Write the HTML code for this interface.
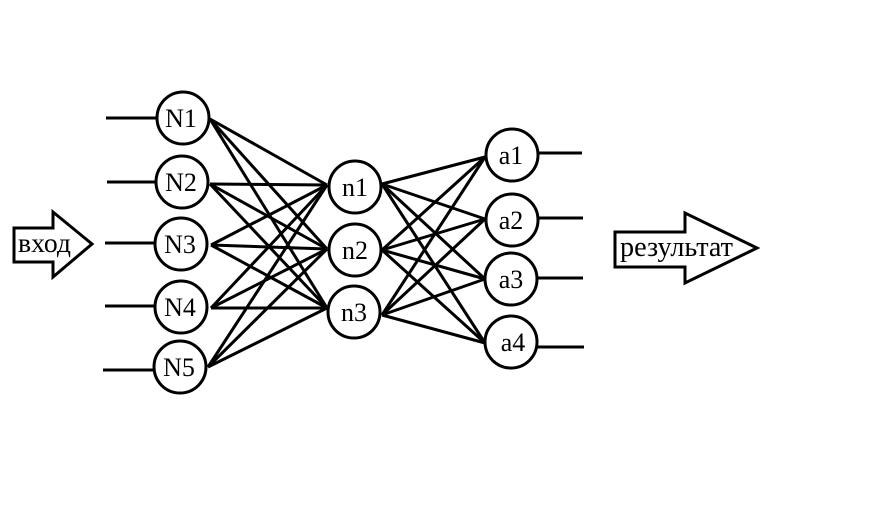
<!DOCTYPE html>
<html><head><meta charset="utf-8"><style>
html,body{margin:0;padding:0;background:#fff;width:887px;height:524px;overflow:hidden}
svg{display:block}
text{font-family:"Liberation Serif",serif;font-size:26px;fill:#000}
</style></head><body>
<svg width="887" height="524" viewBox="0 0 887 524" xmlns="http://www.w3.org/2000/svg">
<g stroke="#000" stroke-width="3" fill="none">
<line x1="106" y1="118" x2="157" y2="118"/>
<line x1="107" y1="182" x2="156" y2="182"/>
<line x1="105" y1="243" x2="155" y2="243"/>
<line x1="105" y1="306" x2="155" y2="306"/>
<line x1="103" y1="370" x2="154" y2="370"/>
<line x1="538" y1="153" x2="582" y2="153"/>
<line x1="538" y1="218" x2="583" y2="218"/>
<line x1="537" y1="278" x2="583" y2="278"/>
<line x1="537" y1="347" x2="584" y2="347"/>
<g>
<line x1="210" y1="119" x2="327" y2="185"/><line x1="210" y1="119" x2="327" y2="249"/><line x1="210" y1="119" x2="327" y2="308"/>
<line x1="210" y1="184" x2="327" y2="185"/><line x1="210" y1="184" x2="327" y2="249"/><line x1="210" y1="184" x2="327" y2="308"/>
<line x1="211" y1="245" x2="327" y2="185"/><line x1="211" y1="245" x2="327" y2="249"/><line x1="211" y1="245" x2="327" y2="308"/>
<line x1="211" y1="308" x2="327" y2="185"/><line x1="211" y1="308" x2="327" y2="249"/><line x1="211" y1="308" x2="327" y2="308"/>
<line x1="208" y1="367" x2="327" y2="185"/><line x1="208" y1="367" x2="327" y2="249"/><line x1="208" y1="367" x2="327" y2="308"/>
</g>
<g>
<line x1="382" y1="184" x2="485" y2="157"/><line x1="382" y1="184" x2="485" y2="219"/><line x1="382" y1="184" x2="485" y2="279"/><line x1="382" y1="184" x2="485" y2="343"/>
<line x1="382" y1="250" x2="485" y2="157"/><line x1="382" y1="250" x2="485" y2="219"/><line x1="382" y1="250" x2="485" y2="279"/><line x1="382" y1="250" x2="485" y2="343"/>
<line x1="382" y1="315" x2="485" y2="157"/><line x1="382" y1="315" x2="485" y2="219"/><line x1="382" y1="315" x2="485" y2="279"/><line x1="382" y1="315" x2="485" y2="343"/>
</g>
</g>
<g stroke="#000" stroke-width="3" fill="#fff">
<circle cx="183" cy="118" r="26"/>
<circle cx="182" cy="182" r="26"/>
<circle cx="181" cy="244" r="26"/>
<circle cx="181" cy="307" r="26"/>
<circle cx="180" cy="367" r="26"/>
<circle cx="355" cy="187" r="26"/>
<circle cx="355" cy="250" r="26"/>
<circle cx="354" cy="312" r="26"/>
<circle cx="512" cy="155" r="26"/>
<circle cx="512" cy="220" r="26"/>
<circle cx="511" cy="279" r="26"/>
<circle cx="511" cy="342" r="26"/>
<polygon points="14,228 53,228 53,212 92,244 53,277 53,262 14,262"/>
<polygon points="615,232 685,232 685,213 757,248 685,283 685,267 615,267"/>
</g>
<g text-anchor="middle">
<text x="181" y="127">N1</text>
<text x="181" y="191">N2</text>
<text x="180" y="253">N3</text>
<text x="180" y="316">N4</text>
<text x="179" y="376">N5</text>
<text x="355" y="196">n1</text>
<text x="355" y="259">n2</text>
<text x="354" y="321">n3</text>
<text x="511" y="164">a1</text>
<text x="511" y="229">a2</text>
<text x="511" y="288">a3</text>
<text x="513" y="351">a4</text>
</g>
<text x="18" y="252" style="font-size:27px" textLength="53" lengthAdjust="spacingAndGlyphs">вход</text>
<text x="620" y="256" style="font-size:28px" textLength="113" lengthAdjust="spacingAndGlyphs">результат</text>
</svg>
</body></html>
